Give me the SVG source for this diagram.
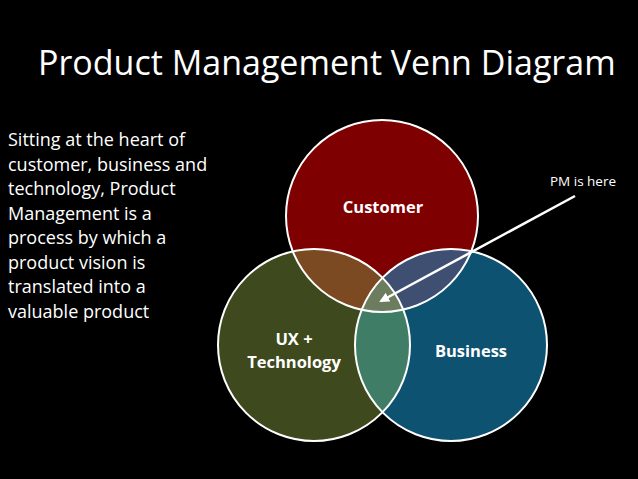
<svg xmlns="http://www.w3.org/2000/svg" width="638" height="479" viewBox="0 0 638 479">
<style>
text{font-family:"Open Sans","Liberation Sans",sans-serif;fill:#fff}
.lbl{font-weight:bold;font-size:16.5px;text-anchor:middle}
.body{font-size:18px}
.ring{fill:none;stroke:#fff;stroke-width:2}
</style>
<defs>
<clipPath id="cC"><circle cx="382" cy="216" r="96"/></clipPath>
<clipPath id="cU"><circle cx="314" cy="345" r="96"/></clipPath>
<marker id="ah" markerWidth="10" markerHeight="10" refX="8" refY="5" orient="auto" markerUnits="userSpaceOnUse"><path d="M0,0 L10,5 L0,10 Z" fill="#fff"/></marker>
</defs>
<rect width="638" height="479" fill="#000"/>
<text x="38" y="75" font-size="34">Product Management Venn Diagram</text>
<text class="body"><tspan x="8" y="146">Sitting at the heart of</tspan><tspan x="8" y="170.5">customer, business and</tspan><tspan x="8" y="195">technology, Product</tspan><tspan x="8" y="219.5">Management is a</tspan><tspan x="8" y="244">process by which a</tspan><tspan x="8" y="268.5">product vision is</tspan><tspan x="8" y="293">translated into a</tspan><tspan x="8" y="317.5">valuable product</tspan></text>
<g id="customer"><circle cx="382" cy="216" r="96" fill="#7f0000"/></g>
<g id="ux"><circle cx="314" cy="345" r="96" fill="#3e4a1d"/></g>
<g id="business"><circle cx="451" cy="345" r="96" fill="#0d5270"/></g>
<g id="overlaps">
<g clip-path="url(#cC)"><circle cx="314" cy="345" r="96" fill="#7b4a22"/><circle cx="451" cy="345" r="96" fill="#3f4f72"/></g>
<g clip-path="url(#cU)"><circle cx="451" cy="345" r="96" fill="#3f7d66"/></g>
<g clip-path="url(#cC)"><g clip-path="url(#cU)"><circle cx="451" cy="345" r="96" fill="#6c7c5e"/></g></g>
</g>
<circle class="ring" cx="382" cy="216" r="96"/>
<circle class="ring" cx="314" cy="345" r="96"/>
<circle class="ring" cx="451" cy="345" r="96"/>
<text class="lbl" x="383" y="213">Customer</text>
<text class="lbl"><tspan x="294" y="345">UX +</tspan><tspan x="294" y="368">Technology</tspan></text>
<text class="lbl" x="471" y="357">Business</text>
<text x="583" y="186" font-size="13.5" text-anchor="middle">PM is here</text>
<g id="connectors"><line x1="575" y1="196" x2="381" y2="301" stroke="#fff" stroke-width="2.5" marker-end="url(#ah)"/></g>
</svg>
